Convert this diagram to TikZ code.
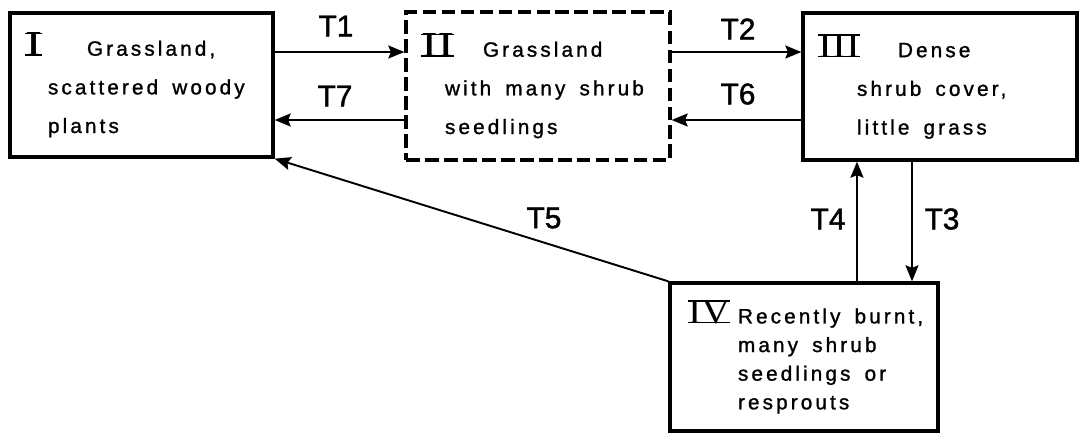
\documentclass[tikz,border=0pt]{standalone}
\usepackage{fontspec}
\usepackage{graphicx}
\usetikzlibrary{arrows.meta}
\newfontfamily\boxfont{Liberation Sans}[LetterSpace=15,FakeBold=1.2]
\newfontfamily\labfont{Liberation Sans}[FakeBold=1.5]
\newfontfamily\numfont{Liberation Serif}
\newsavebox\numbox
\newcommand\rnum[2]{%
  \sbox\numbox{\numfont #2}%
  \resizebox{#1}{0.46cm}{\rlap{\rule{\wd\numbox}{0.07\ht\numbox}}\rlap{\rule[0.93\ht\numbox]{\wd\numbox}{0.07\ht\numbox}}\usebox\numbox}}
\newcommand\gap{\ \hspace{0.35em}}

\begin{document}
\begin{tikzpicture}[
  x=0.02cm,y=-0.02cm,
  state/.style={rectangle,draw,line width=1.9pt,align=left,inner xsep=0.3cm,inner ysep=0pt,
    font=\boxfont\fontsize{11.8}{22}\selectfont},
  dstate/.style={state,dash pattern=on 0.27cm off 0.11cm},
  trans/.style={line width=1.1pt,-{Stealth[length=0.32cm,width=0.26cm,inset=0.05cm]}},
  tlabel/.style={font=\labfont\fontsize{17}{20}\selectfont,inner sep=0pt}
]
  \useasboundingbox (0,0) rectangle (1079,434);
  \node[state,text width=4.66cm,minimum height=2.88cm] (s1) at (141.5,85)
    {\makebox[1.24cm][l]{\rnum{0.34cm}{I}}Grassland,\\ \hspace*{0.46cm}scattered\gap woody\\ \hspace*{0.46cm}plants};
  \node[dstate,text width=4.68cm,minimum height=2.96cm] (s2) at (538,86)
    {\makebox[1.24cm][l]{\rnum{0.66cm}{II}}Grassland\\ \hspace*{0.48cm}with\gap many\gap shrub\\ \hspace*{0.48cm}seedlings};
  \node[state,text width=4.88cm,minimum height=2.94cm] (s3) at (940,86.5)
    {\makebox[1.6cm][l]{\rnum{0.84cm}{III}}Dense\\ \hspace*{0.78cm}shrub\gap cover,\\ \hspace*{0.78cm}little\gap grass};
  \node[state,text width=4.96cm,inner xsep=0.2cm,minimum height=2.96cm,font=\boxfont\fontsize{11.8}{16.3}\selectfont] (s4) at (804,357)
    {\makebox[1.16cm][l]{\hspace*{0.16cm}\rnum{0.84cm}{IV}}Recently\gap burnt,\\ \hspace*{1.16cm}many\gap shrub\\ \hspace*{1.16cm}seedlings\gap or\\ \hspace*{1.16cm}resprouts};
  \coordinate (a1) at ([yshift=0.66cm]s1.east);
  \coordinate (a2) at ([yshift=0.68cm]s2.east);
  \coordinate (a7) at ([yshift=-0.68cm]s2.west);
  \coordinate (a6) at ([yshift=-0.67cm]s3.west);
  \coordinate (a4) at ([xshift=1.06cm]s4.north);
  \coordinate (a3) at ([xshift=-0.56cm]s3.south);
  \draw[trans] (a1) -- (a1 -| s2.west);
  \draw[trans] (a2) -- (a2 -| s3.west);
  \draw[trans] (a7) -- (a7 -| s1.east);
  \draw[trans] (a6) -- (a6 -| s2.east);
  \draw[trans] (a4) -- (a4 |- s3.south);
  \draw[trans] (a3) -- (a3 |- s4.north);
  \draw[trans] (s4.north west) -- (s1.south east);
  \node[tlabel] (t1) at (336,26) {T1};
  \node[tlabel] (t7) at (335,96) {T7};
  \node[tlabel] (t2) at (738,29) {T2};
  \node[tlabel] (t6) at (738,94) {T6};
  \node[tlabel] (t4) at (828,219) {T4};
  \node[tlabel] (t3) at (942,219) {T3};
  \node[tlabel] (t5) at (544,218) {T5};
\end{tikzpicture}
\end{document}
